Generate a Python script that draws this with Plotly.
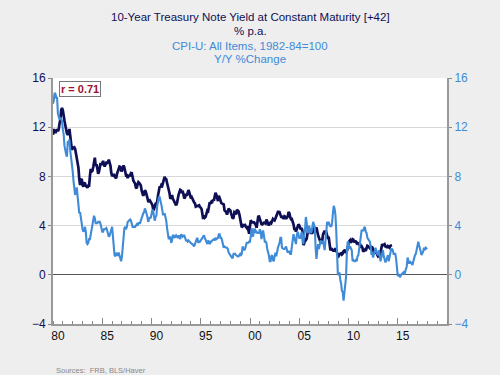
import pandas as pd
import plotly.graph_objects as go

# CPI-U Y/Y % change, monthly from Jan 1980
cpi_start = "1980-01-01"
cpi_yoy = [
    13.9, 14.2, 14.8, 14.7, 14.4, 14.4, 13.1, 12.9, 12.6, 12.8, 12.6, 12.5,
    11.8, 11.4, 10.5, 10.0, 9.8, 9.6, 10.8, 10.8, 11.0, 10.1, 9.6, 8.9,
    8.4, 7.6, 6.8, 6.5, 6.7, 7.1, 6.4, 5.9, 5.0, 5.1, 4.6, 3.8,
    3.7, 3.5, 3.6, 3.9, 3.5, 2.6, 2.5, 2.6, 2.9, 2.9, 3.3, 3.8,
    4.2, 4.6, 4.8, 4.6, 4.2, 4.2, 4.2, 4.3, 4.3, 4.3, 4.1, 3.9,
    3.5, 3.5, 3.7, 3.7, 3.8, 3.8, 3.6, 3.3, 3.1, 3.2, 3.5, 3.8,
    3.9, 3.1, 2.2, 1.6, 1.5, 1.8, 1.6, 1.6, 1.8, 1.5, 1.3, 1.1,
    1.5, 2.1, 3.0, 3.8, 3.9, 3.7, 3.9, 4.3, 4.4, 4.5, 4.5, 4.4,
    4.0, 3.9, 3.9, 3.9, 3.9, 4.0, 4.1, 4.0, 4.2, 4.2, 4.2, 4.4,
    4.7, 4.8, 5.0, 5.1, 5.4, 5.2, 5.0, 4.7, 4.3, 4.5, 4.7, 4.6,
    5.2, 5.3, 5.2, 4.7, 4.4, 4.7, 4.8, 5.6, 6.2, 6.3, 6.3, 6.1,
    5.7, 5.3, 4.9, 4.9, 5.0, 4.7, 4.4, 3.8, 3.4, 2.9, 3.0, 3.1,
    2.6, 2.8, 3.2, 3.2, 3.0, 3.1, 3.2, 3.1, 3.0, 3.2, 3.0, 2.9,
    3.3, 3.2, 3.1, 3.2, 3.2, 3.0, 2.8, 2.8, 2.7, 2.8, 2.7, 2.7,
    2.5, 2.5, 2.5, 2.4, 2.3, 2.5, 2.8, 2.9, 3.0, 2.6, 2.7, 2.7,
    2.8, 2.9, 2.9, 3.1, 3.2, 3.0, 2.8, 2.6, 2.5, 2.8, 2.6, 2.5,
    2.7, 2.7, 2.8, 2.9, 2.9, 2.8, 3.0, 2.9, 3.0, 3.0, 3.3, 3.3,
    3.0, 3.0, 2.8, 2.5, 2.2, 2.3, 2.2, 2.2, 2.2, 2.1, 1.8, 1.7,
    1.6, 1.4, 1.4, 1.4, 1.7, 1.7, 1.7, 1.6, 1.5, 1.5, 1.5, 1.6,
    1.7, 1.6, 1.7, 2.3, 2.1, 2.0, 2.1, 2.3, 2.6, 2.6, 2.6, 2.7,
    2.7, 3.2, 3.8, 3.1, 3.2, 3.7, 3.7, 3.4, 3.5, 3.4, 3.4, 3.4,
    3.7, 3.5, 2.9, 3.3, 3.6, 3.2, 2.7, 2.7, 2.6, 2.1, 1.9, 1.6,
    1.1, 1.1, 1.5, 1.6, 1.2, 1.1, 1.5, 1.8, 1.5, 2.0, 2.2, 2.4,
    2.6, 3.0, 3.0, 2.2, 2.1, 2.1, 2.1, 2.2, 2.3, 2.0, 1.8, 1.9,
    1.9, 1.7, 1.7, 2.3, 3.1, 3.3, 3.0, 2.7, 2.5, 3.2, 3.5, 3.3,
    3.0, 3.0, 3.1, 3.5, 2.8, 2.5, 3.2, 3.6, 4.7, 4.3, 3.5, 3.4,
    4.0, 3.6, 3.4, 3.5, 4.2, 4.3, 4.1, 3.8, 2.1, 1.3, 2.0, 2.5,
    2.1, 2.4, 2.8, 2.6, 2.7, 2.7, 2.4, 2.0, 2.8, 3.5, 4.3, 4.1,
    4.3, 4.0, 4.0, 3.9, 4.2, 5.0, 5.6, 5.4, 4.9, 3.7, 1.1, 0.1,
    0.0, 0.2, -0.4, -0.7, -1.3, -1.4, -2.1, -1.5, -1.3, -0.2, 1.8, 2.7,
    2.6, 2.1, 2.3, 2.2, 2.0, 1.1, 1.2, 1.1, 1.1, 1.2, 1.1, 1.5,
    1.6, 2.1, 2.7, 3.2, 3.6, 3.6, 3.6, 3.8, 3.9, 3.5, 3.4, 3.0,
    2.9, 2.9, 2.7, 2.3, 1.7, 1.7, 1.4, 1.7, 2.0, 2.2, 1.8, 1.7,
    1.6, 2.0, 1.5, 1.1, 1.4, 1.8, 2.0, 1.5, 1.2, 1.0, 1.2, 1.5,
    1.6, 1.1, 1.5, 2.0, 2.1, 2.1, 2.0, 1.7, 1.7, 1.7, 1.3, 0.8,
    -0.1, 0.0, -0.1, -0.2, 0.0, 0.1, 0.2, 0.2, 0.0, 0.2, 0.5, 0.7,
    1.4, 1.0, 0.9, 1.1, 1.0, 1.0, 0.8, 1.1, 1.5, 1.6, 1.7, 2.1,
    2.5, 2.7, 2.4, 2.2, 1.9, 1.6, 1.7, 1.9, 2.2, 2.0, 2.2, 2.1,
    2.1,
]

# 10-Year Treasury yield, monthly from Jul 1983 (plotted with a 42-month lead)
tsy_start = "1983-07-01"
tsy_lead_months = 42
tsy_10y = [
    11.38, 11.85, 11.65, 11.54, 11.69, 11.83,
    11.67, 11.84, 12.32, 12.63, 13.41, 13.56, 13.36, 12.72, 12.52, 12.16, 11.57, 11.50,
    11.38, 11.51, 11.86, 11.43, 10.85, 10.16, 10.31, 10.33, 10.37, 10.24, 9.78, 9.26,
    9.19, 8.70, 7.78, 7.30, 7.71, 7.80, 7.30, 7.17, 7.45, 7.43, 7.25, 7.11,
    7.08, 7.25, 7.25, 8.02, 8.61, 8.40, 8.45, 8.76, 9.42, 9.52, 8.86, 8.99,
    8.67, 8.21, 8.37, 8.72, 9.09, 8.92, 9.06, 9.26, 8.98, 8.80, 8.96, 9.11,
    9.09, 9.17, 9.36, 9.18, 8.86, 8.28, 8.02, 8.11, 8.19, 8.01, 7.87, 7.84,
    8.21, 8.47, 8.59, 8.79, 8.76, 8.48, 8.47, 8.75, 8.89, 8.72, 8.39, 8.08,
    8.09, 7.85, 8.11, 8.04, 8.07, 8.28, 8.27, 7.90, 7.65, 7.53, 7.42, 7.09,
    7.03, 7.34, 7.54, 7.48, 7.39, 7.26, 6.84, 6.59, 6.42, 6.59, 6.87, 6.77,
    6.60, 6.26, 5.98, 5.97, 6.04, 5.96, 5.81, 5.68, 5.36, 5.33, 5.72, 5.77,
    5.75, 5.97, 6.48, 6.97, 7.18, 7.10, 7.30, 7.24, 7.46, 7.74, 7.96, 7.81,
    7.78, 7.47, 7.20, 7.06, 6.63, 6.17, 6.28, 6.49, 6.20, 6.04, 5.93, 5.71,
    5.65, 5.81, 6.27, 6.51, 6.74, 6.91, 6.87, 6.64, 6.83, 6.53, 6.20, 6.30,
    6.58, 6.42, 6.69, 6.89, 6.71, 6.49, 6.22, 6.30, 6.21, 6.03, 5.88, 5.81,
    5.54, 5.57, 5.65, 5.64, 5.65, 5.50, 5.46, 5.34, 4.81, 4.53, 4.83, 4.65,
    4.72, 5.00, 5.23, 5.18, 5.54, 5.90, 5.79, 5.94, 5.92, 6.11, 6.03, 6.28,
    6.66, 6.52, 6.26, 5.99, 6.44, 6.10, 6.05, 5.83, 5.80, 5.74, 5.72, 5.24,
    5.16, 5.10, 4.89, 5.14, 5.39, 5.28, 5.24, 4.97, 4.73, 4.57, 4.65, 5.09,
    5.04, 4.91, 5.28, 5.21, 5.16, 4.93, 4.65, 4.26, 3.87, 3.94, 4.05, 4.03,
    4.05, 3.90, 3.81, 3.96, 3.57, 3.33, 3.98, 4.45, 4.27, 4.29, 4.30, 4.27,
    4.15, 4.08, 3.83, 4.35, 4.72, 4.73, 4.50, 4.28, 4.13, 4.10, 4.19, 4.23,
    4.22, 4.17, 4.50, 4.34, 4.14, 4.00, 4.18, 4.26, 4.20, 4.46, 4.54, 4.47,
    4.42, 4.57, 4.72, 4.99, 5.11, 5.11, 5.09, 4.88, 4.72, 4.73, 4.60, 4.56,
    4.76, 4.72, 4.56, 4.69, 4.75, 5.10, 5.00, 4.67, 4.52, 4.53, 4.15, 4.10,
    3.74, 3.74, 3.51, 3.68, 3.88, 4.10, 4.01, 3.89, 3.69, 3.81, 3.53, 2.42,
    2.52, 2.87, 2.82, 2.93, 3.29, 3.72, 3.56, 3.59, 3.40, 3.39, 3.40, 3.59,
    3.73, 3.69, 3.73, 3.85, 3.42, 3.20, 3.01, 2.70, 2.65, 2.54, 2.76, 3.29,
    3.39, 3.58, 3.41, 3.46, 3.17, 3.00, 3.00, 2.30, 1.98, 2.15, 2.01, 1.98,
    1.97, 1.97, 2.17, 2.05, 1.80, 1.62, 1.53, 1.68, 1.72, 1.75, 1.65, 1.72,
    1.91, 1.98, 1.96, 1.76, 1.93, 2.30, 2.58, 2.74, 2.81, 2.62, 2.72, 2.90,
    2.86, 2.71, 2.72, 2.71, 2.56, 2.60, 2.54, 2.42, 2.53, 2.30, 2.33, 2.21,
    1.88, 1.98, 2.04, 1.94, 2.20, 2.36, 2.32, 2.17, 2.17, 2.07, 2.26, 2.24,
    2.09, 1.78, 1.89, 1.81, 1.81, 1.64, 1.50, 1.56, 1.63, 1.76, 2.14, 2.49,
    2.43, 2.42, 2.48, 2.30, 2.30, 2.19, 2.32, 2.21, 2.20, 2.36, 2.35, 2.40,
]

x_label_years = list(range(1980, 2020, 5))
x_tick_text = [str(y)[-2:] for y in x_label_years]
y_ticks = [-4, 0, 4, 8, 12, 16]

title_lines = ["10-Year Treasury Note Yield at Constant Maturity [+42]", "% p.a."]
subtitle_lines = ["CPI-U: All Items, 1982-84=100", "Y/Y %Change"]
corr_text = "r = 0.71"
source_text = "Sources:  FRB, BLS/Haver"

NAVY = "#0f0f55"
BLUE = "#3f8bd8"
FONT = "Liberation Sans, Arial, sans-serif"

W, H = 500, 375
ML, MR, MT, MB = 53, 53, 78, 51
PH = H - MT - MB

cpi_dates = pd.date_range(cpi_start, periods=len(cpi_yoy), freq="MS")
tsy_dates = pd.date_range(tsy_start, periods=len(tsy_10y), freq="MS") - pd.DateOffset(months=tsy_lead_months)

fig = go.Figure()
fig.add_trace(go.Scatter(x=tsy_dates, y=tsy_10y, mode="lines",
                         line=dict(color=NAVY, width=2.7), name="10Y", yaxis="y"))
fig.add_trace(go.Scatter(x=cpi_dates, y=cpi_yoy, mode="lines",
                         line=dict(color=BLUE, width=2.1), name="CPI", yaxis="y2"))

xr = ["1980-01-01", "2020-01-01"]
fig.update_layout(
    width=W, height=H,
    margin=dict(l=ML, r=MR, t=MT, b=MB, autoexpand=False),
    paper_bgcolor="#eeeeee", plot_bgcolor="#ffffff",
    showlegend=False,
    font=dict(family=FONT, size=11, color=NAVY),
    xaxis=dict(
        type="date", range=xr, automargin=False,
        tickmode="array",
        tickvals=[f"{y}-07-01" for y in x_label_years],
        ticktext=x_tick_text,
        ticks="", showgrid=False,
        tickfont=dict(size=12, color="#111111"),
        showline=True, linecolor="#999999", linewidth=2,
        minor=dict(ticks="inside", ticklen=3, tickcolor="#888888",
                   tick0="1980-01-01", dtick="M12", showgrid=False),
        zeroline=False,
    ),
    xaxis2=dict(
        type="date", range=xr, overlaying="x", side="bottom", automargin=False,
        tickmode="array",
        tickvals=[f"{y}-01-01" for y in x_label_years],
        ticks="inside", ticklen=6, tickcolor="#888888",
        showticklabels=False, showgrid=False, showline=False,
    ),
    yaxis=dict(
        range=[-4, 16], tickmode="array", tickvals=y_ticks, automargin=False,
        ticks="outside", ticklen=3, tickcolor="#888888",
        tickfont=dict(size=12, color=NAVY),
        showgrid=True, gridcolor="#d8d8d8", gridwidth=1,
        zeroline=True, zerolinecolor="#555555", zerolinewidth=1.3,
        showline=True, linecolor="#999999", linewidth=2,
    ),
    yaxis2=dict(
        range=[-4, 16], tickmode="array", tickvals=y_ticks, automargin=False,
        overlaying="y", side="right",
        ticks="outside", ticklen=3, tickcolor="#888888",
        tickfont=dict(size=12, color=BLUE),
        showgrid=False, zeroline=False,
        showline=True, linecolor="#999999", linewidth=2,
    ),
)

fig.add_trace(go.Scatter(x=[xr[0]], y=[None], xaxis="x2", yaxis="y",
                         mode="lines", showlegend=False, hoverinfo="skip"))


def ypx(py):
    return (H - MB - py) / PH


ann = []
for t, y in zip(title_lines, [17, 31]):
    ann.append(dict(text=t, x=0.5, xref="paper", y=ypx(y), yref="paper", yanchor="middle",
                    showarrow=False, font=dict(size=11.5, color=NAVY)))
for t, y in zip(subtitle_lines, [46, 59]):
    ann.append(dict(text=t, x=0.5, xref="paper", y=ypx(y), yref="paper", yanchor="middle",
                    showarrow=False, font=dict(size=11.5, color=BLUE)))

ann.append(dict(text=f"<b>{corr_text}</b>", x=0.015, xref="paper", y=ypx(81), yref="paper",
                xanchor="left", yanchor="top", showarrow=False,
                font=dict(size=11, color="#a0102a"),
                bgcolor="#ffffff", bordercolor="#777777", borderwidth=1, borderpad=1))
ann.append(dict(text=source_text, x=(54 - ML) / (W - ML - MR), xref="paper",
                y=ypx(370), yref="paper",
                xanchor="left", yanchor="middle", showarrow=False,
                font=dict(size=7.5, color="#888888")))
fig.update_layout(annotations=ann)

fig.write_html("out.html", config={"displayModeBar": False},
               post_script="document.body.style.margin='0';document.body.style.overflow='hidden';")
